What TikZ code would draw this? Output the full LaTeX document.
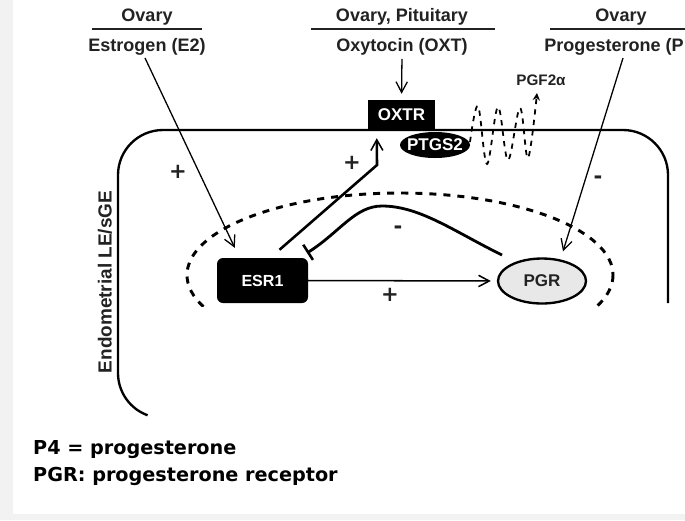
\documentclass[tikz,border=0pt]{standalone}
\usepackage{fontspec}
\setmainfont{Liberation Sans}
\newfontfamily\notefont{DejaVu Sans}
\usetikzlibrary{arrows.meta,shapes.geometric,calc}
\definecolor{bggray}{HTML}{F2F2F2}
\definecolor{pgrfill}{HTML}{E8E8E8}
\definecolor{txtc}{HTML}{222222}
\begin{document}
\begin{tikzpicture}[x=0.03cm,y=-0.03cm,
  hdr/.style={font=\bfseries\fontsize{15.4pt}{18pt}\selectfont, text=txtc, inner sep=0pt, anchor=base},
  hline/.style={line width=2.4pt, draw=txtc},
  thinarr/.style={line width=1.1pt, -{Straight Barb[length=3.2mm,width=3.4mm]}},
  thickarr/.style={line width=2.2pt, -{Straight Barb[length=3.2mm,width=3.6mm,line width=1.3pt]}},
  blackbox/.style={fill=black, text=white, font=\bfseries\fontsize{14.5pt}{16pt}\selectfont, inner sep=0pt},
  sign/.style={font=\notefont\bfseries\fontsize{18pt}{18pt}\selectfont, text=txtc, inner sep=0pt},
  cell/.style={line width=2pt},
  nucleus/.style={line width=2.5pt, dash pattern=on 6pt off 6pt},
  wave/.style={line width=1.5pt, dash pattern=on 4.5pt off 4.5pt},
  inhib/.style={line width=2.4pt, -{Bar[width=5.4mm,line width=2.2pt]}},
  note/.style={font=\notefont\bfseries\fontsize{16.4pt}{20pt}\selectfont, inner sep=0pt, anchor=base west}
]
\useasboundingbox (0,0) rectangle (685,520);
\fill[bggray] (0,0) rectangle (685,520);
\fill[white] (13,0) rectangle (685,514);

% headers
\node[hdr] (ov1) at (147,21) {Ovary};
\node[hdr] (e2) at (147,51) {Estrogen (E2)};
\node[hdr] (ov2) at (402,21) {Ovary, Pituitary};
\node[hdr] (oxt) at (402,51) {Oxytocin (OXT)};
\node[hdr] (ov3) at (621,21) {Ovary};
\node[hdr, anchor=base east] (p4) at (684,51) {Progesterone (P};
\draw[hline] (92,29) -- (202,29);
\draw[hline] (311,29) -- (495,29);
\draw[hline] (550,29) -- (685,29);

% side label
\node[hdr, anchor=center, rotate=90, font=\bfseries\fontsize{16.2pt}{18pt}\selectfont] (lbl) at (105,282) {Endometrial LE/sGE};

% cell membrane
\draw[cell, rounded corners=1.35cm] (118,373) -- (118,130) -- (668,130) -- (668,303);
\draw[cell] (118,373) arc[start angle=180,end angle=110,radius=45];

% nucleus (cut at the bottom)
\begin{scope}
  \clip (150,150) rectangle (685,306);
  \draw[nucleus] (400,275) ellipse [x radius=213, y radius=82];
\end{scope}

% nodes
\node[blackbox, minimum width=2.01cm, minimum height=0.9cm] (oxtr) at (401.5,115) {OXTR};
\node[blackbox, ellipse, minimum width=2.1cm, minimum height=0.78cm] (ptgs2) at (435,145) {\makebox[0pt]{PTGS2}};
\node[blackbox, rounded corners=0.18cm, minimum width=2.73cm, minimum height=1.35cm,
      font=\bfseries\fontsize{13.7pt}{15pt}\selectfont] (esr1) at (262.5,280.5) {ESR1};
\node[ellipse, draw, line width=2pt, fill=pgrfill, minimum width=2.64cm, minimum height=1.35cm,
      inner sep=0pt, text=txtc, font=\bfseries\fontsize{14.5pt}{16pt}\selectfont] (pgr) at (542,281) {PGR};
\node[font=\bfseries\fontsize{13pt}{14pt}\selectfont, text=txtc, inner sep=0pt] (pgf) at (541,80) {PGF2α};

% connectors
\coordinate (e2s) at (145,58);
\coordinate (e2t) at ($(esr1.north west)+(18,-10)$);
\draw[thinarr] (e2s) -- (e2t);
\draw[thinarr, shorten <=0.12cm, shorten >=0.18cm] (oxt.south) -- (oxtr.north);
\coordinate (p4s) at (623,58);
\coordinate (p4t) at ($(pgr.north)+(21,-6)$);
\draw[thinarr] (p4s) -- (p4t);
\draw[thinarr, line width=1.3pt, shorten >=0.18cm] (esr1.east) -- (pgr.west);
\coordinate (bend) at (377,165);
\draw[thickarr] ($(esr1.north)+(17,-8)$) -- (bend) -- ($(oxtr.south west)+(9,8)$);
\coordinate (inhS) at (502,255);
\coordinate (inhE) at (307,253);
\draw[inhib] (inhS) .. controls (455,232) and (420,206) .. (382,206) .. controls (355,206) and (340,232) .. (inhE);
\draw[wave, -{Stealth[length=2.2mm,width=2.2mm]}] plot[smooth, tension=0.6] coordinates
  {(470,142) (478,106) (487,164) (498,107) (508,160) (520,108) (528,158) (537,93)};

% signs
\node[sign] (pl1) at (178,172) {+};
\node[sign] (pl2) at (352,163) {+};
\node[sign] (pl3) at (390,295) {+};
\node[sign] (mi1) at (598,180) {-};
\node[sign] (mi2) at (398,230) {-};

% notes
\node[note] (n1) at (33,454) {P4 = progesterone};
\node[note] (n2) at (33,481) {PGR: progesterone receptor};
\end{tikzpicture}
\end{document}
